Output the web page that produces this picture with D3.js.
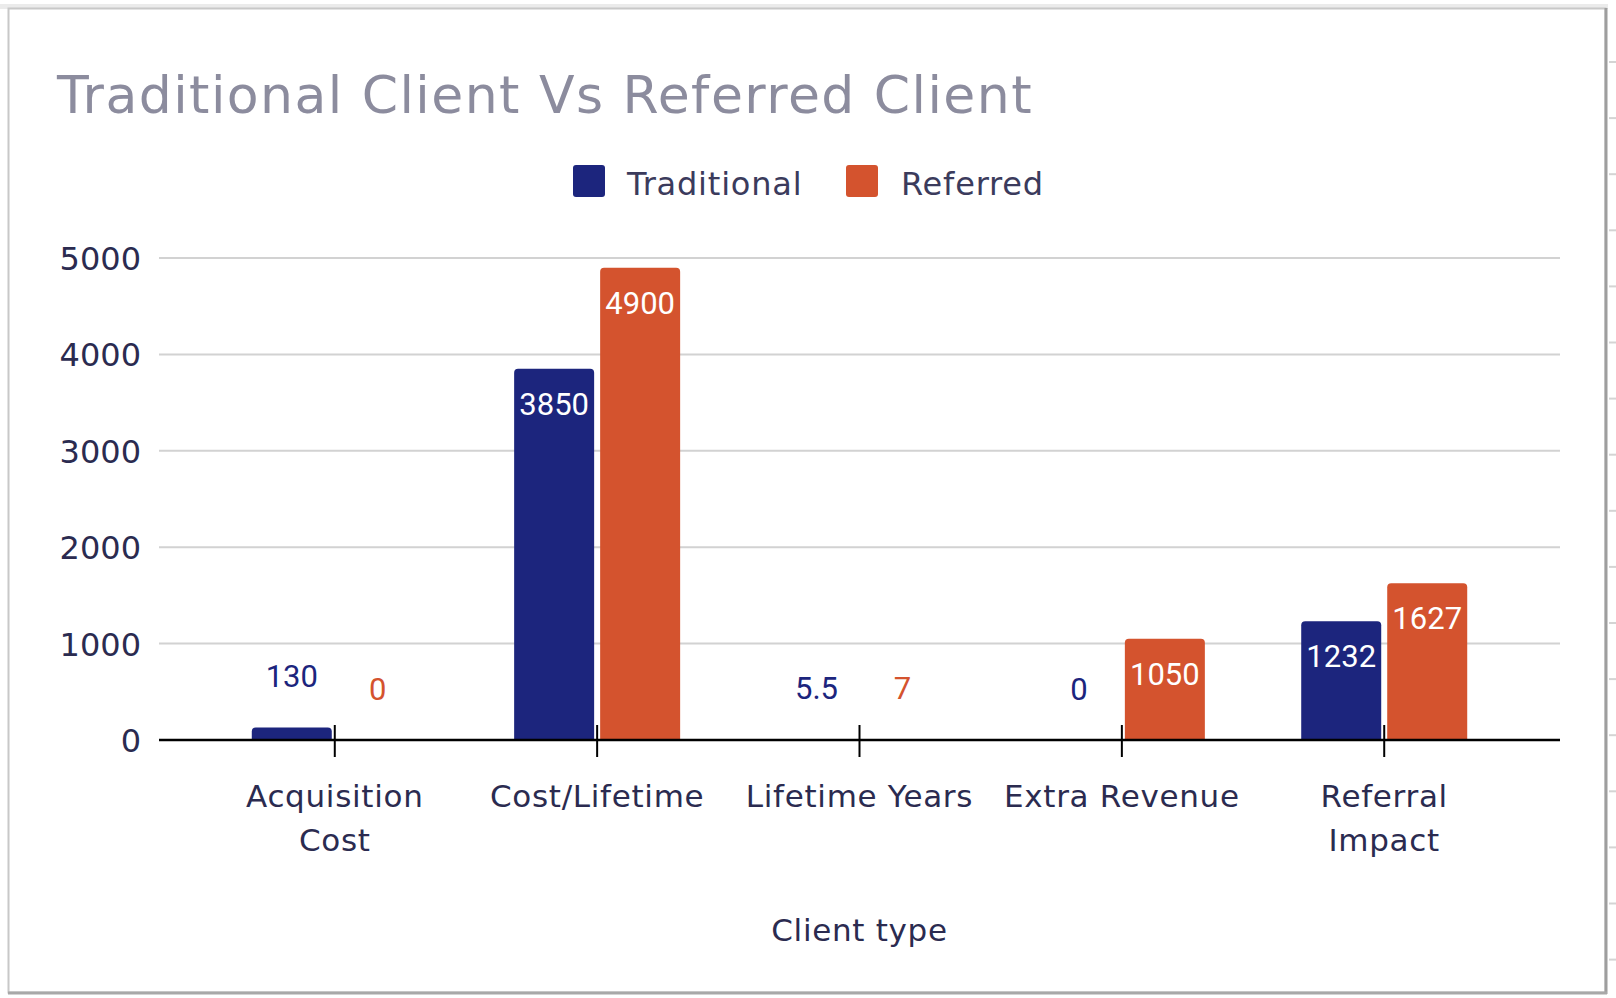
<!DOCTYPE html>
<html>
<head>
<meta charset="utf-8">
<script src="https://cdn.jsdelivr.net/npm/d3@7/dist/d3.min.js"></script>
<style>
  html, body { margin: 0; padding: 0; background: #ffffff; }
  svg { display: block; }
</style>
</head>
<body>
<svg id="chart" width="1616" height="998"></svg>
<script>
// ---- data ----
const categories = ["Acquisition Cost", "Cost/Lifetime", "Lifetime Years", "Extra Revenue", "Referral Impact"];
const categoryLines = [["Acquisition", "Cost"], ["Cost/Lifetime"], ["Lifetime Years"], ["Extra Revenue"], ["Referral", "Impact"]];
const seriesNames = ["Traditional", "Referred"];
const traditional = [130, 3850, 5.5, 0, 1232];
const referred = [0, 4900, 7, 1050, 1627];
const yTicks = [0, 1000, 2000, 3000, 4000, 5000];
const titleText = "Traditional Client Vs Referred Client";
const xAxisTitle = "Client type";

const colors = { Traditional: "#1c257d", Referred: "#d4532e" };
const seriesValues = { Traditional: traditional, Referred: referred };

const svg = d3.select("#chart");

// ---- frame ----
svg.append("rect").attr("x", 0).attr("y", 4).attr("width", 1608).attr("height", 5).attr("fill", "#ebebeb");
svg.append("rect").attr("x", 8.5).attr("y", 8.5).attr("width", 1597).attr("height", 984)
  .attr("fill", "#ffffff").attr("stroke", "#c8c8c8").attr("stroke-width", 2);
svg.append("line").attr("x1", 1606).attr("x2", 1606).attr("y1", 8).attr("y2", 994)
  .attr("stroke", "#9e9e9e").attr("stroke-width", 3);
svg.append("line").attr("x1", 8).attr("x2", 1607).attr("y1", 993).attr("y2", 993)
  .attr("stroke", "#a8a8a8").attr("stroke-width", 3);
// row markers on the right margin (decoration)
const markerRows = d3.range(0, 17);
svg.append("g").selectAll("line").data(markerRows).join("line")
  .attr("x1", 1609).attr("x2", 1616)
  .attr("y1", d => 62 + d * 56.1).attr("y2", d => 62 + d * 56.1)
  .attr("stroke", "#d4d4d4").attr("stroke-width", 2);

// ---- scales ----
const plotLeft = 159, plotRight = 1560, plotTop = 258, plotBottom = 740;
const x = d3.scaleBand().domain(categories).range([plotLeft, plotRight]).paddingInner(0).paddingOuter(0.17);
const xs = d3.scaleBand().domain(seriesNames).range([-83, 83]).paddingInner(0.0698);
const y = d3.scaleLinear().domain([0, 5000]).range([plotBottom, plotTop]);
const cx = c => x(c) + x.bandwidth() / 2;

// ---- gridlines ----
svg.append("g").selectAll("line").data(yTicks.filter(t => t > 0)).join("line")
  .attr("x1", plotLeft).attr("x2", plotRight)
  .attr("y1", d => y(d)).attr("y2", d => y(d))
  .attr("stroke", "#d2d2d2").attr("stroke-width", 2);

// ---- y axis labels ----
const yAxis = d3.axisLeft(y).tickValues(yTicks).tickSize(0).tickPadding(0).tickFormat(d3.format("d"));
const gy = svg.append("g").attr("transform", `translate(${141},0)`).call(yAxis);
gy.select(".domain").remove();
gy.selectAll("text")
  .attr("font-family", "DejaVu Sans").attr("font-size", 32).attr("fill", "#2b2b50")
  .attr("dy", "0.36em");

// ---- title ----
svg.append("text").attr("x", 57).attr("y", 113)
  .attr("font-family", "DejaVu Sans").attr("font-size", 52).attr("fill", "#8c8c9e")
  .attr("letter-spacing", 1.45)
  .text(titleText);

// ---- legend ----
const legendItems = [{ name: "Traditional", x: 573, tx: 627 }, { name: "Referred", x: 846, tx: 901 }];
const lg = svg.append("g");
lg.selectAll("rect").data(legendItems).join("rect")
  .attr("x", d => d.x).attr("y", 165).attr("width", 32).attr("height", 32).attr("rx", 3)
  .attr("fill", d => colors[d.name]);
lg.selectAll("text").data(legendItems).join("text")
  .attr("x", d => d.tx).attr("y", 195)
  .attr("font-family", "DejaVu Sans").attr("font-size", 32).attr("fill", "#3b3b5c")
  .attr("letter-spacing", 0.8)
  .text(d => d.name);

// ---- bars ----
function topRoundedRect(x0, y0, w, h, r) {
  r = Math.min(r, h, w / 2);
  return `M${x0},${y0 + h}V${y0 + r}Q${x0},${y0} ${x0 + r},${y0}H${x0 + w - r}Q${x0 + w},${y0} ${x0 + w},${y0 + r}V${y0 + h}Z`;
}
const barData = [];
categories.forEach((c, i) => {
  seriesNames.forEach(s => barData.push({ cat: c, series: s, value: seriesValues[s][i] }));
});
const bars = svg.append("g");
bars.selectAll("path").data(barData.filter(d => d.value > 0)).join("path")
  .attr("d", d => {
    const x0 = cx(d.cat) + xs(d.series);
    const y0 = y(d.value);
    return topRoundedRect(x0, y0, xs.bandwidth(), plotBottom - y0, 4);
  })
  .attr("fill", d => colors[d.series]);

// ---- value labels ----
svg.append("g").selectAll("text").data(barData).join("text")
  .attr("x", d => cx(d.cat) + xs(d.series) + xs.bandwidth() / 2)
  .attr("y", d => {
    const top = y(d.value);
    return (plotBottom - top > 60) ? top + 46 : top - 40;
  })
  .attr("text-anchor", "middle")
  .attr("font-family", "Roboto").attr("font-size", 31)
  .attr("fill", d => (plotBottom - y(d.value) > 60) ? "#ffffff" : colors[d.series])
  .text(d => d3.format("~g")(d.value));

// ---- x axis ----
svg.append("line").attr("x1", plotLeft).attr("x2", plotRight).attr("y1", plotBottom).attr("y2", plotBottom)
  .attr("stroke", "#000000").attr("stroke-width", 2.5);
svg.append("g").selectAll("line").data(categories).join("line")
  .attr("x1", d => cx(d)).attr("x2", d => cx(d)).attr("y1", 725).attr("y2", 757)
  .attr("stroke", "#000000").attr("stroke-width", 2);
const xl = svg.append("g").selectAll("text").data(categories).join("text")
  .attr("text-anchor", "middle")
  .attr("font-family", "DejaVu Sans").attr("font-size", 31).attr("fill", "#2b2b50")
  .attr("letter-spacing", 0.7);
xl.each(function (d, i) {
  const t = d3.select(this);
  categoryLines[i].forEach((line, j) => {
    t.append("tspan").attr("x", cx(d)).attr("y", 807 + j * 44).text(line);
  });
});

svg.append("text").attr("x", cx(categories[2])).attr("y", 941).attr("text-anchor", "middle")
  .attr("font-family", "DejaVu Sans").attr("font-size", 31).attr("fill", "#2b2b50")
  .attr("letter-spacing", 0.7)
  .text(xAxisTitle);
</script>
</body>
</html>
